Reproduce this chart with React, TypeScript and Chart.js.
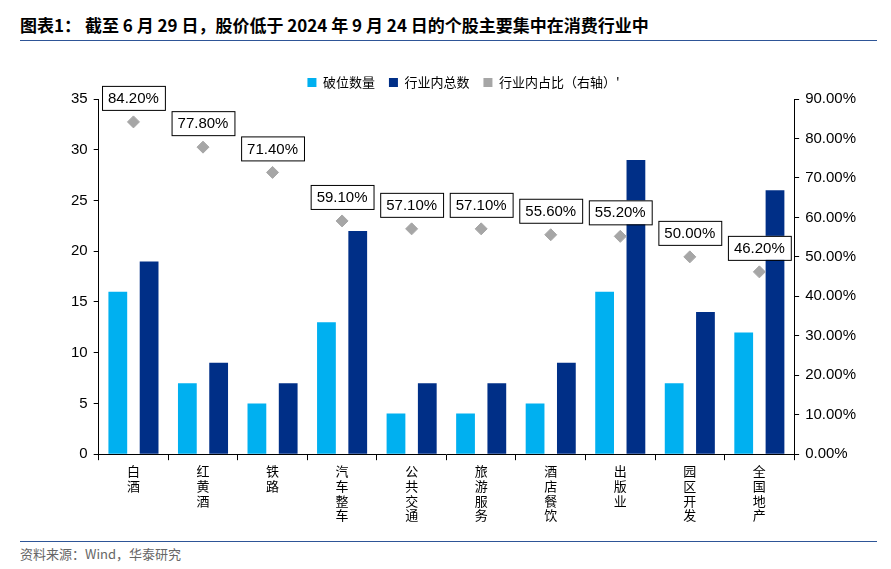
import React, { useEffect, useRef } from "react";
import { Chart, registerables } from "chart.js";
Chart.register(...registerables);

const categories = [["白", "酒"], ["红", "黄", "酒"], ["铁", "路"], ["汽", "车", "整", "车"], ["公", "共", "交", "通"], ["旅", "游", "服", "务"], ["酒", "店", "餐", "饮"], ["出", "版", "业"], ["园", "区", "开", "发"], ["全", "国", "地", "产"]];
const breakCount = [16, 7, 5, 13, 4, 4, 5, 16, 7, 12];
const totalCount = [19, 9, 7, 22, 7, 7, 9, 29, 14, 26];
const ratioPct = [84.2, 77.8, 71.4, 59.1, 57.1, 57.1, 55.6, 55.2, 50.0, 46.2];
const leftTicks = [0, 5, 10, 15, 20, 25, 30, 35];

const FONT = "'Noto Sans CJK SC', Arial, sans-serif";

const boxLabels = {
  id: "boxLabels",
  afterDatasetsDraw(chart: any) {
    const ctx = chart.ctx;
    const meta = chart.getDatasetMeta(2);
    ctx.save();
    ctx.font = `15px Arial, ${FONT}`;
    meta.data.forEach((pt: any, i: number) => {
      const t = ratioPct[i].toFixed(2) + "%";
      const w = ctx.measureText(t).width + 12;
      const h = 24;
      const cx = pt.x;
      const cy = pt.y - 24;
      ctx.fillStyle = "#fff";
      ctx.fillRect(cx - w / 2, cy - h / 2, w, h);
      ctx.strokeStyle = "#000";
      ctx.lineWidth = 1;
      ctx.strokeRect(cx - w / 2 + 0.5, cy - h / 2 + 0.5, w, h);
      ctx.fillStyle = "#000";
      ctx.textAlign = "center";
      ctx.textBaseline = "middle";
      ctx.fillText(t, cx, cy + 1);
    });
    ctx.restore();
  },
};

export default function App() {
  const ref = useRef<HTMLCanvasElement>(null);
  useEffect(() => {
    const chart = new Chart(ref.current!, {
      type: "bar",
      data: {
        labels: categories as any,
        datasets: [
          { label: "破位数量", data: breakCount, backgroundColor: "#00B0F0", yAxisID: "y", order: 2, barPercentage: 0.6, categoryPercentage: 0.9 },
          { label: "行业内总数", data: totalCount, backgroundColor: "#002F87", yAxisID: "y", order: 2, barPercentage: 0.6, categoryPercentage: 0.9 },
          { type: "line", label: "行业内占比（右轴）'", data: ratioPct.map((v) => v / 100), yAxisID: "y1", showLine: false, pointStyle: "rectRot", pointRadius: 6, pointHoverRadius: 6, backgroundColor: "#A6A6A6", borderColor: "#A6A6A6", order: 1 } as any,
        ],
      },
      options: {
        animation: false,
        responsive: false,
        layout: { padding: { left: 65, right: 29, top: 0, bottom: 16 } },
        plugins: {
          tooltip: { enabled: false },
          legend: {
            position: "top",
            labels: { usePointStyle: false, boxWidth: 9, boxHeight: 9, font: { family: FONT, size: 13 }, color: "#000", padding: 14,
              generateLabels: (c: any) => c.data.datasets.map((d: any, i: number) => ({
                text: d.label, fillStyle: d.backgroundColor, strokeStyle: d.backgroundColor, lineWidth: 0,
                pointStyle: i === 2 ? "rectRot" : "rect", datasetIndex: i,
              })) },
          },
        },
        scales: {
          x: {
            grid: { display: true, offset: true, drawOnChartArea: false, drawTicks: true, tickLength: 6, color: "#000" },
            border: { color: "#000" },
            ticks: { color: "#000", font: { family: FONT, size: 13, lineHeight: 1.15 }, maxRotation: 0 },
          },
          y: {
            min: 0, max: 35, position: "left",
            afterBuildTicks: (s: any) => { s.ticks = leftTicks.map((v) => ({ value: v })); },
            grid: { display: true, drawOnChartArea: false, tickLength: 5, color: "#000" },
            border: { color: "#000" },
            ticks: { color: "#000", font: { family: "Arial", size: 15 }, padding: 6 },
          },
          y1: {
            min: 0, max: 0.9, position: "right",
            grid: { display: true, drawOnChartArea: false, tickLength: 5, color: "#000" },
            border: { color: "#000" },
            ticks: { stepSize: 0.1, color: "#000", font: { family: "Arial", size: 15 }, padding: 6, callback: (v: any) => (Number(v) * 100).toFixed(2) + "%" },
          },
        },
      },
      plugins: [boxLabels],
    });
    return () => chart.destroy();
  }, []);
  return (
    <div style={{ position: "absolute", left: 0, top: 0, width: 891, height: 569, background: "#fff", fontFamily: FONT }}>
      <div style={{ position: "absolute", left: 20, top: 12, fontSize: 17, fontWeight: "bold", color: "#000" }}>
        图表1：&nbsp;截至 6 月 29 日，股价低于 2024 年 9 月 24 日的个股主要集中在消费行业中
      </div>
      <div style={{ position: "absolute", left: 20, right: 14, top: 40, borderTop: "1.5px solid #2E5597" }} />
      <canvas ref={ref} width={891} height={480} style={{ position: "absolute", left: 0, top: 62 }} />
      <div style={{ position: "absolute", left: 20, right: 14, top: 541, borderTop: "1px solid #2E5597" }} />
      <div style={{ position: "absolute", left: 20, top: 544, fontSize: 13, color: "#666" }}>资料来源：Wind，华泰研究</div>
    </div>
  );
}
